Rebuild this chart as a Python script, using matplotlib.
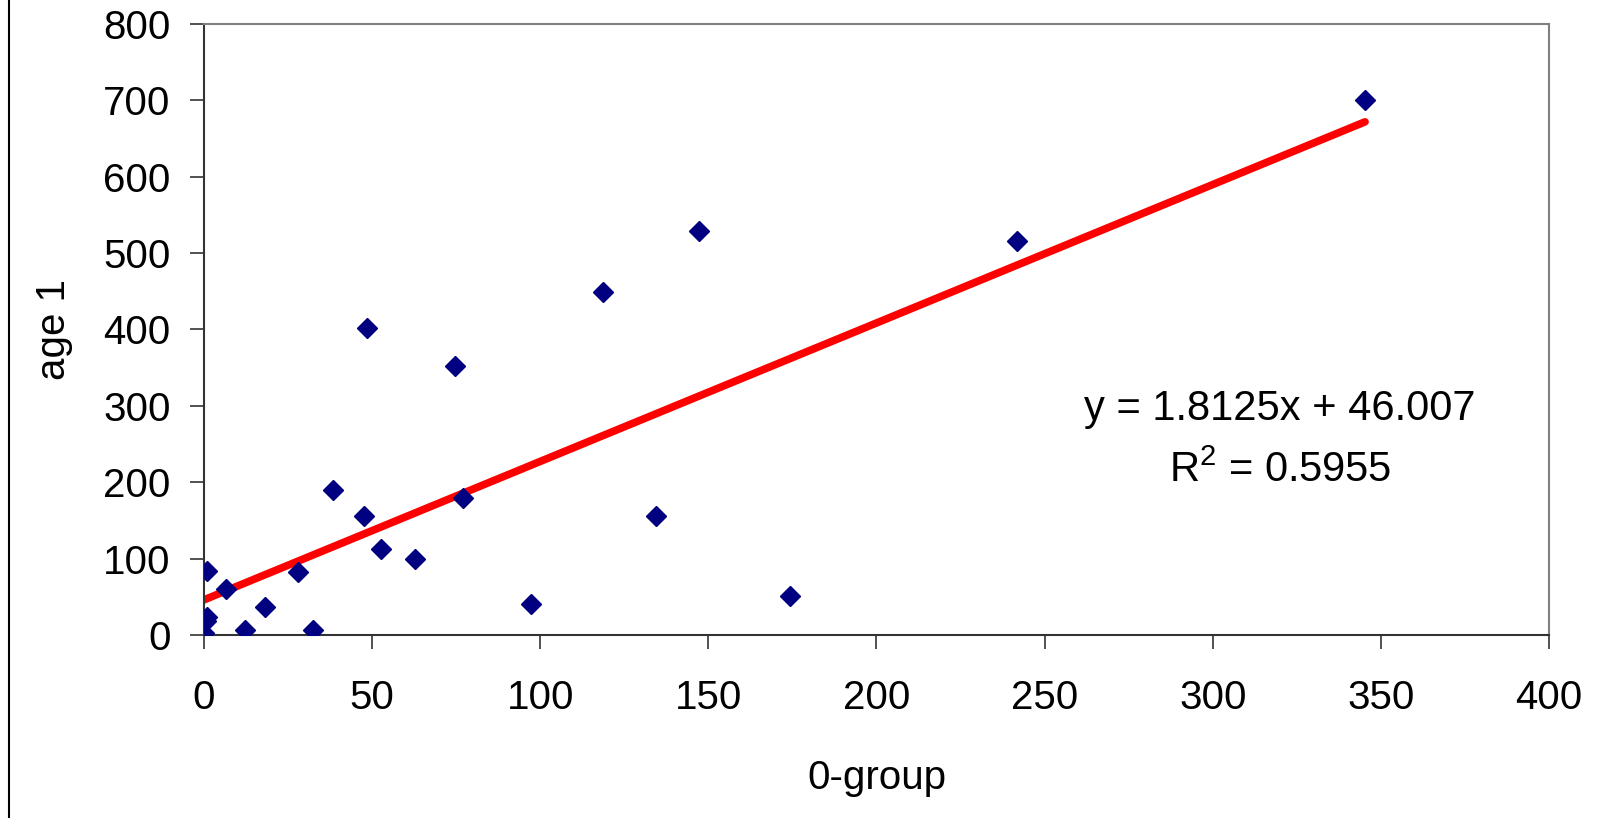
import matplotlib

matplotlib.use("Agg")

import matplotlib.pyplot as plt
from matplotlib.lines import Line2D

plt.rcParams['font.family'] = ['Liberation Sans', 'DejaVu Sans']
plt.rcParams['mathtext.fontset'] = 'custom'
plt.rcParams['mathtext.rm'] = 'Liberation Sans'
plt.rcParams['mathtext.default'] = 'regular'

# 0-group vs age 1 values
zero_group = [0, 0.5, 1, 0.8, 6.7, 12.2, 18.1, 28, 32.5, 38.5, 47.6, 48.4,
              52.8, 62.7, 74.8, 77.1, 97.4, 118.6, 134.4, 147.3, 174.3,
              241.8, 345.3]
age_1 = [3, 18, 23, 84, 60, 6.5, 37, 83, 6.5, 190, 156, 402,
         113, 100, 352, 180, 40, 449, 156, 529, 51,
         516, 701]

slope = 1.8125
intercept = 46.007
r2 = 0.5955

x_ticks = [0, 50, 100, 150, 200, 250, 300, 350, 400]
y_ticks = [0, 100, 200, 300, 400, 500, 600, 700, 800]

fig = plt.figure(figsize=(16.11, 8.18), dpi=100)
ax = fig.add_axes([0.1266, 0.2237, 0.8349, 0.747])

x_fit = [0, max(zero_group)]
y_fit = [slope * v + intercept for v in x_fit]
ax.plot(x_fit, y_fit, color='#ff0000', lw=5.5, solid_capstyle='round', zorder=2)

ax.plot(zero_group, age_1, linestyle='none', marker='D', markersize=10,
        color='#000080', zorder=3)

ax.set_xlim(0, 400)
ax.set_ylim(0, 800)
ax.set_xticks(x_ticks)
ax.set_yticks(y_ticks)
ax.tick_params(labelsize=29, length=10, width=1.2, color='#333333', direction='out')
ax.tick_params(axis='x', pad=22)
ax.tick_params(axis='y', pad=14)

for side in ['top', 'right']:
    ax.spines[side].set_color('#808080')
    ax.spines[side].set_linewidth(1.5)
for side in ['left', 'bottom']:
    ax.spines[side].set_color('#333333')
    ax.spines[side].set_linewidth(1.5)

ax.set_xlabel("0-group", fontsize=29, labelpad=30)
ax.set_ylabel("age 1", fontsize=29, labelpad=22)

ax.text(320, 296, "y = %.4fx + %.3f" % (slope, intercept), fontsize=30,
        ha='center', va='center')
ax.text(320, 215, "R$^{2}$ = %.4f" % r2, fontsize=30, ha='center', va='center')

fig.add_artist(Line2D([0.0056, 0.0056], [0, 1], color='black', lw=1.5))

fig.savefig("out.png", dpi=100)
plt.close()
